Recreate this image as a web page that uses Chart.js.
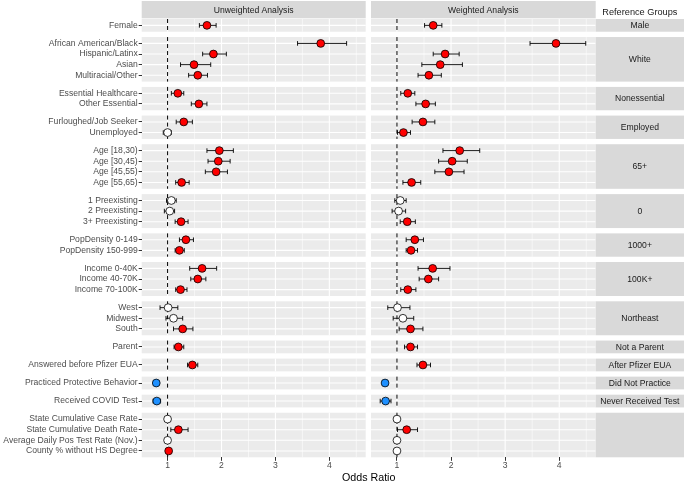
<!DOCTYPE html>
<html><head><meta charset="utf-8">
<script src="https://cdn.jsdelivr.net/npm/chart.js@4.4.1/dist/chart.umd.min.js"></script>
<style>
html,body{margin:0;padding:0;background:#fff;}
#wrap{position:relative;width:685px;height:484px;overflow:hidden;}
#wrap canvas{position:absolute;left:0;top:0;}
</style></head><body>
<div id="wrap"><canvas id="cLeft" width="685" height="484"></canvas><canvas id="cRight" width="685" height="484"></canvas></div>
<script>
// ---------------- data ----------------
const categories = [
  'Female',
  'African American/Black','Hispanic/Latinx','Asian','Multiracial/Other',
  'Essential Healthcare','Other Essential',
  'Furloughed/Job Seeker','Unemployed',
  'Age [18,30)','Age [30,45)','Age [45,55)','Age [55,65)',
  '1 Preexisting','2 Preexisting','3+ Preexisting',
  'PopDensity 0-149','PopDensity 150-999',
  'Income 0-40K','Income 40-70K','Income 70-100K',
  'West','Midwest','South',
  'Parent',
  'Answered before Pfizer EUA',
  'Practiced Protective Behavior',
  'Received COVID Test',
  'State Cumulative Case Rate','State Cumulative Death Rate','Average Daily Pos Test Rate (Nov.)','County % without HS Degree'
];
const groupSizes = [1,4,2,2,4,3,2,3,3,1,1,1,1,4];
const referenceGroups = ['Male','White','Nonessential','Employed','65+','0','1000+','100K+','Northeast','Not a Parent','After Pfizer EUA','Did Not Practice','Never Received Test',''];
const panelTitles = ['Unweighted Analysis','Weighted Analysis'];
const referenceHeader = 'Reference Groups';
const axisTitle = 'Odds Ratio';
const xTicks = [1,2,3,4];
const xMinorTicks = [1.5,2.5,3.5,4.5];

const unwOR = [1.73, 3.84,1.85,1.49,1.56, 1.19,1.58, 1.30,1.00, 1.96,1.94,1.90,1.26, 1.07,1.04,1.25, 1.34,1.22, 1.64,1.56,1.24, 1.01,1.11,1.28, 1.20, 1.46, 0.79, 0.80, 1.00,1.20,1.00,1.02];
const unwLo = [1.59, 3.41,1.65,1.24,1.39, 1.07,1.44, 1.16,0.92, 1.73,1.75,1.70,1.15, 0.98,0.94,1.14, 1.22,1.14, 1.41,1.43,1.15, 0.86,0.97,1.11, 1.12, 1.37, 0.75, 0.73, 0.99,1.06,0.99,1.00];
const unwHi = [1.90, 4.32,2.09,1.80,1.74, 1.30,1.73, 1.46,1.07, 2.22,2.16,2.11,1.40, 1.16,1.13,1.38, 1.48,1.31, 1.91,1.71,1.36, 1.19,1.28,1.47, 1.30, 1.56, 0.83, 0.87, 1.01,1.38,1.01,1.04];
const unwSig = ['pos','pos','pos','pos','pos','pos','pos','pos','ns','pos','pos','pos','pos','ns','ns','pos','pos','pos','pos','pos','pos','ns','ns','pos','pos','pos','neg','neg','ns','pos','ns','pos'];

const wOR = [1.67, 3.94,1.89,1.80,1.59, 1.20,1.53, 1.48,1.12, 2.16,2.02,1.96,1.27, 1.06,1.03,1.19, 1.33,1.26, 1.66,1.58,1.20, 1.01,1.11,1.25, 1.25, 1.48, 0.78, 0.79, 1.00,1.18,1.00,1.00];
const wLo = [1.51, 3.46,1.67,1.46,1.39, 1.07,1.35, 1.28,1.01, 1.85,1.77,1.70,1.11, 0.96,0.91,1.06, 1.17,1.17, 1.39,1.41,1.07, 0.83,0.93,1.04, 1.14, 1.37, 0.74, 0.69, 0.99,1.01,0.99,0.98];
const wHi = [1.83, 4.49,2.15,2.21,1.82, 1.33,1.71, 1.70,1.25, 2.53,2.30,2.24,1.44, 1.17,1.16,1.34, 1.49,1.38, 1.98,1.77,1.35, 1.24,1.31,1.48, 1.38, 1.62, 0.82, 0.89, 1.01,1.38,1.01,1.02];
const wSig = ['pos','pos','pos','pos','pos','pos','pos','pos','pos','pos','pos','pos','pos','ns','ns','pos','pos','pos','pos','pos','pos','ns','ns','pos','pos','pos','neg','neg','ns','pos','ns','ns'];

// ---------------- layout helpers ----------------
const GAP = 0.5, PAD = 0.6;
const rowPos = [], panels = [];
(function(){
  let start = 0;
  groupSizes.forEach(n => {
    const end = start + n - 1 + 2*PAD;
    panels.push({start, end});
    for (let j = 0; j < n; j++) rowPos.push(start + PAD + j);
    start = end + GAP;
  });
  panels.yMax = start - GAP;
})();

const sigColor = {pos:'#FF0000', neg:'#1E90FF', ns:'#FFFFFF'};
const FONT = "'Liberation Sans', Arial, sans-serif";
const PANEL_BG = '#EBEBEB', STRIP_BG = '#D9D9D9';
const CH_H = 484, AREA_TOP = 19, AREA_BOTTOM = 457.3;

function line(ctx, x1, y1, x2, y2){ ctx.beginPath(); ctx.moveTo(x1,y1); ctx.lineTo(x2,y2); ctx.stroke(); }

function facetPlugin(side, lo, hi){
  return {
    id: 'facet' + side,
    beforeDraw(chart){
      const {ctx, chartArea: ca, scales: {x, y}} = chart;
      ctx.save();
      panels.forEach(p => {
        const top = y.getPixelForValue(p.start), bot = y.getPixelForValue(p.end);
        ctx.fillStyle = PANEL_BG;
        ctx.fillRect(ca.left, top, ca.right - ca.left, bot - top);
        ctx.strokeStyle = '#FFFFFF';
        ctx.lineWidth = 0.55;
        xMinorTicks.forEach(v => { const px = x.getPixelForValue(v); if (px > ca.left && px < ca.right) line(ctx, px, top, px, bot); });
        ctx.lineWidth = 1.1;
        xTicks.forEach(v => { const px = x.getPixelForValue(v); line(ctx, px, top, px, bot); });
      });
      ctx.strokeStyle = '#FFFFFF'; ctx.lineWidth = 1.1;
      rowPos.forEach(v => { const py = y.getPixelForValue(v); line(ctx, ca.left, py, ca.right, py); });
      // reference line at OR = 1
      ctx.strokeStyle = '#000'; ctx.lineWidth = 1; ctx.setLineDash([4,3]);
      const x1 = x.getPixelForValue(1);
      panels.forEach(p => { line(ctx, x1, y.getPixelForValue(p.start), x1, y.getPixelForValue(p.end)); });
      ctx.setLineDash([]);
      // top strip
      ctx.fillStyle = STRIP_BG;
      ctx.fillRect(ca.left, 1, ca.right - ca.left, ca.top - 0.7 - 1);
      ctx.fillStyle = '#1A1A1A';
      ctx.font = '8.6px ' + FONT;
      ctx.textAlign = 'center'; ctx.textBaseline = 'middle';
      ctx.fillText(panelTitles[side], (ca.left + ca.right)/2, 10.2);
      if (side === 1) {
        const sx = ca.right, sw = 88.3;
        panels.forEach((p, i) => {
          const top = y.getPixelForValue(p.start), bot = y.getPixelForValue(p.end);
          ctx.fillStyle = STRIP_BG;
          ctx.fillRect(sx, top, sw, bot - top);
          ctx.fillStyle = '#1A1A1A';
          ctx.fillText(referenceGroups[i], sx + sw/2, (top + bot)/2 + 0.3);
        });
        ctx.font = '9.2px ' + FONT;
        ctx.fillText(referenceHeader, sx + sw/2, 12.6);
        ctx.fillStyle = '#000';
        ctx.font = '10.7px ' + FONT;
        ctx.fillText(axisTitle, (141.7 + ca.right)/2, 478.3);
      }
      ctx.restore();
    },
    beforeDatasetsDraw(chart){
      const {ctx, scales: {x, y}} = chart;
      ctx.save();
      ctx.strokeStyle = '#000'; ctx.lineWidth = 0.9;
      rowPos.forEach((v, i) => {
        const py = y.getPixelForValue(v);
        const a = x.getPixelForValue(lo[i]), b = x.getPixelForValue(hi[i]);
        line(ctx, a, py, b, py);
        line(ctx, a, py - 2.3, a, py + 2.3);
        line(ctx, b, py - 2.3, b, py + 2.3);
      });
      ctx.restore();
    }
  };
}

function makeChart(id, side, est, lo, hi, sig){
  const padding = side === 0 ? {left:0, right:685-365.7, top:AREA_TOP, bottom:0}
                             : {left:371, right:685-595.7, top:AREA_TOP, bottom:0};
  return new Chart(document.getElementById(id), {
    type: 'scatter',
    data: { datasets: [{
      data: rowPos.map((v, i) => ({x: est[i], y: v})),
      pointBackgroundColor: sig.map(s => sigColor[s]),
      pointBorderColor: '#000',
      pointBorderWidth: 0.8,
      pointRadius: 3.9,
      pointHoverRadius: 3.9,
      showLine: false
    }]},
    options: {
      responsive: false, animation: false, devicePixelRatio: 1,
      layout: {padding},
      events: [],
      plugins: {legend:{display:false}, tooltip:{enabled:false}},
      scales: {
        x: {
          type: 'linear', min: 0.52, max: 4.674,
          afterBuildTicks: s => { s.ticks = xTicks.map(v => ({value: v})); },
          afterFit: s => { s.height = CH_H - AREA_BOTTOM; },
          grid: {drawOnChartArea:false, drawTicks:true, tickLength:3.5, color:'#333333', lineWidth:1},
          border: {display:false},
          ticks: {color:'#4D4D4D', font:{family:FONT, size:8.6}, padding:0, maxRotation:0, autoSkip:false,
                  callback: v => String(v)}
        },
        y: {
          type: 'linear', reverse: true, min: 0, max: panels.yMax,
          display: side === 0,
          afterBuildTicks: s => { s.ticks = rowPos.map(v => ({value: v})); },
          afterFit: s => { s.width = side === 0 ? 141.7 : 0; },
          grid: {drawOnChartArea:false, drawTicks:true, tickLength:3, color:'#333333', lineWidth:1},
          border: {display:false},
          ticks: {color:'#4D4D4D', font:{family:FONT, size:8.6}, padding:1, autoSkip:false,
                  callback: (v, i) => categories[i]}
        }
      }
    },
    plugins: [facetPlugin(side, lo, hi)]
  });
}

makeChart('cLeft', 0, unwOR, unwLo, unwHi, unwSig);
makeChart('cRight', 1, wOR, wLo, wHi, wSig);
</script>
</body></html>
